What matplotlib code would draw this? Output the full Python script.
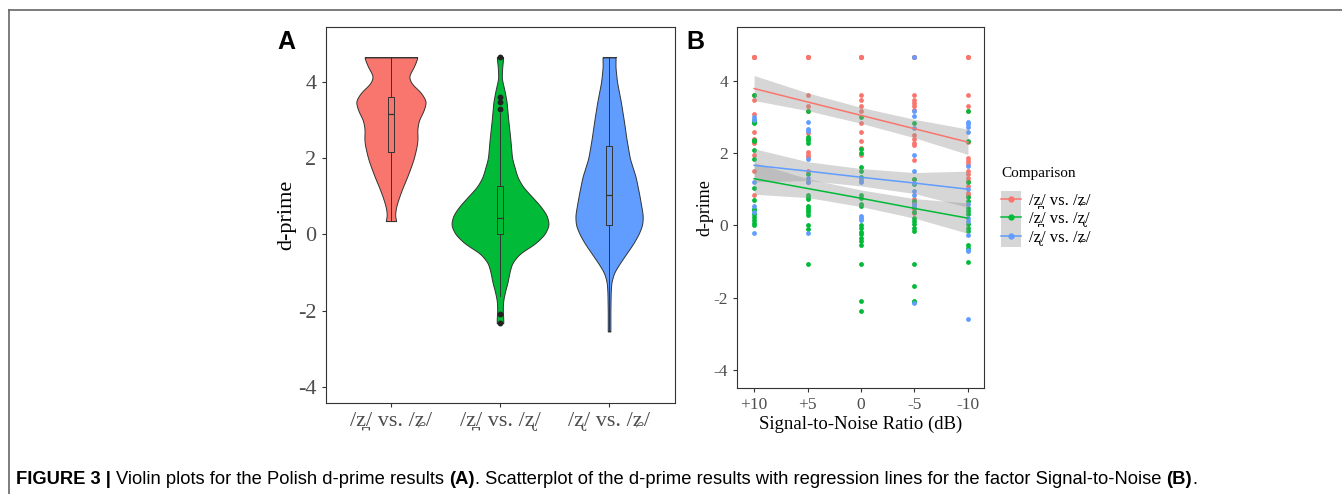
import numpy as np
import matplotlib
matplotlib.use("Agg")
import matplotlib.pyplot as plt
from matplotlib.patches import Rectangle
from matplotlib.lines import Line2D

SERIF = ["Liberation Serif", "DejaVu Serif"]
SANS = ["Liberation Sans", "DejaVu Sans"]
plt.rcParams.update({
    "font.family": SERIF,
    "axes.edgecolor": "#333333",
    "axes.linewidth": 0.8,
    "xtick.color": "#333333",
    "ytick.color": "#333333",
    "xtick.labelcolor": "#4D4D4D",
    "ytick.labelcolor": "#4D4D4D",
    "xtick.direction": "out",
    "ytick.direction": "out",
    "xtick.major.size": 3,
    "ytick.major.size": 3,
})

# ---------------- data ----------------
COMPARISONS = ["/z\u032a/ vs. /\u0291/", "/z\u032a/ vs. /\u0290/", "/\u0290/ vs. /\u0291/"]
COLORS = ["#F8766D", "#00BA38", "#619CFF"]

# violin outlines (d-prime, half width in category units)
VIO_Y_1 = [0.35, 0.5, 0.75, 1.0, 1.25, 1.5, 1.75, 2.0, 2.3, 2.5, 2.75, 3.0,
           3.25, 3.5, 3.75, 3.95, 4.15, 4.4, 4.65]
VIO_W_1 = [0.05, 0.035, 0.049, 0.077, 0.11, 0.147, 0.18, 0.21, 0.235, 0.245,
           0.24, 0.255, 0.30, 0.325, 0.27, 0.19, 0.16, 0.21, 0.245]
VIO_Y_2 = [-2.33, -2.2, -2.0, -1.75, -1.5, -1.25, -1.0, -0.75, -0.5, -0.25,
           0.0, 0.25, 0.5, 0.75, 1.0, 1.25, 1.5, 2.0, 2.5, 3.0, 3.5, 3.8,
           4.1, 4.4, 4.65]
VIO_W_2 = [0.03, 0.03, 0.025, 0.028, 0.046, 0.07, 0.086, 0.11, 0.18, 0.32,
           0.41, 0.45, 0.43, 0.37, 0.29, 0.21, 0.16, 0.11, 0.095, 0.076,
           0.06, 0.04, 0.015, 0.02, 0.03]
VIO_Y_3 = [-2.55, -2.0, -1.5, -1.25, -1.0, -0.75, -0.5, -0.25, 0.0, 0.25,
           0.5, 1.0, 1.5, 2.0, 2.5, 3.0, 3.5, 4.0, 4.4, 4.65]
VIO_W_3 = [0.012, 0.012, 0.015, 0.021, 0.046, 0.10, 0.16, 0.22, 0.27, 0.305,
           0.31, 0.28, 0.245, 0.19, 0.16, 0.135, 0.107, 0.073, 0.058, 0.06]

BOX_MED = [3.17, 0.44, 1.04]
BOX_Q1 = [2.16, 0.0, 0.25]
BOX_Q3 = [3.60, 1.27, 2.32]
BOX_LO = [0.35, -1.62, -2.55]
BOX_HI = [4.65, 3.18, 4.65]
OUTLIERS = [[], [4.65, 3.60, 3.49, 3.29, -2.08, -2.33], []]

# panel B: d-prime per SNR level (dB) and comparison
SNR = [10, 5, 0, -5, -10]
SNR_LABELS = ["+10", "+5", "0", "-5", "-10"]

RED_PTS = [
    [4.65, 4.65, 4.65, 4.65, 4.65, 4.65, 3.60, 3.47, 3.07, 2.58, 2.38, 2.33,
     2.29, 1.94, 1.50, 0.83],
    [4.65, 4.65, 4.65, 4.65, 4.65, 3.61, 3.30, 3.17, 2.56, 2.03, 1.94, 1.89,
     1.50, 1.20],
    [4.65, 4.65, 4.65, 4.65, 4.65, 3.61, 3.47, 3.30, 3.17, 2.84, 2.58, 2.33,
     2.13, 1.94],
    [4.65, 4.65, 4.65, 4.65, 3.61, 3.47, 3.37, 3.30, 3.18, 2.50, 2.38, 2.29,
     2.22, 1.82, 1.28, 0.72, 0.63, 0.44, 0.35],
    [4.65, 4.65, 4.65, 3.61, 3.30, 3.17, 2.30, 1.87, 1.78, 1.70, 1.50, 1.42,
     1.32, 1.23, 1.09, 0.90, 0.84],
]
GREEN_PTS = [
    [3.60, 2.90, 2.87, 2.83, 2.36, 2.33, 2.07, 1.84, 1.03, 0.69, 0.44,
     0.42, 0.32, 0.23, 0.14, 0.07, 0.00],
    [3.17, 2.44, 2.40, 2.36, 2.27, 1.42, 0.84, 0.79, 0.73, 0.54, 0.48,
     0.43, 0.38, 0.28, 0.00, -0.11, -1.06],
    [3.00, 2.10, 2.00, 1.60, 1.50, 1.35, 0.84, 0.77, 0.60, 0.54, 0.00, -0.08,
     -0.18, -0.25, -0.34, -0.44, -0.55, -1.06, -2.10, -2.36],
    [2.84, 1.28, 1.15, 0.68, 0.50, 0.36, 0.21, 0.12, 0.03, -0.06, -0.16,
     -1.06, -1.68, -2.08, -2.12],
    [3.17, 2.33, 1.20, 0.79, 0.68, 0.49, 0.40, 0.31, 0.03, -0.06, -0.16,
     -0.53, -0.62, -1.00],
]
BLUE_PTS = [
    [3.00, 2.90, 1.20, 0.55, 0.36, -0.20],
    [2.87, 2.66, 2.60, 1.83, 1.30, 1.20, -0.20],
    [1.25, 1.20, 0.26, 0.21, 0.14],
    [4.65, 3.17, 3.03, 2.70, 1.94, 1.50, 1.16, 0.94, 0.84, 0.58, 0.54, -2.15],
    [2.87, 2.80, 2.73, 2.58, 1.64, 1.00, 0.58, 0.21, 0.12, -0.27, -0.67,
     -0.71, -2.58],
]

# fitted regression lines and 95% CI at each SNR level
FIT_RED = [3.78, 3.41, 3.04, 2.67, 2.30]
FIT_GREEN = [1.29, 1.02, 0.75, 0.47, 0.20]
FIT_BLUE = [1.66, 1.50, 1.33, 1.17, 1.00]
CI_RED_LO = [3.45, 3.17, 2.82, 2.42, 1.96]
CI_RED_HI = [4.14, 3.66, 3.26, 2.93, 2.66]
CI_GREEN_LO = [0.86, 0.77, 0.52, 0.20, -0.22]
CI_GREEN_HI = [1.74, 1.29, 0.98, 0.74, 0.62]
CI_BLUE_LO = [1.20, 1.24, 1.09, 0.88, 0.50]
CI_BLUE_HI = [2.12, 1.76, 1.57, 1.46, 1.50]

W, H = 1342, 494


def fbox(l, t, r, b):
    return [l / W, 1 - b / H, (r - l) / W, (b - t) / H]


def smooth_profile(ys, ws, n=400, sigma=0.07):
    yy = np.linspace(ys[0], ys[-1], n)
    ww = np.interp(yy, ys, ws)
    step = yy[1] - yy[0]
    k = np.arange(-int(3 * sigma / step), int(3 * sigma / step) + 1) * step
    ker = np.exp(-0.5 * (k / sigma) ** 2)
    ker /= ker.sum()
    pad = len(k) // 2
    wp = np.pad(ww, pad, mode="edge")
    return yy, np.convolve(wp, ker, mode="valid")


fig = plt.figure(figsize=(W / 100, H / 100), dpi=100)

# figure frame (top and left rules)
fig.add_artist(Line2D([9 / W, 1], [1 - 10.5 / H] * 2, color="#666666", lw=1.2))
fig.add_artist(Line2D([9 / W] * 2, [0, 1 - 10.5 / H], color="#666666", lw=1.2))

# ---------------- panel A ----------------
axA = fig.add_axes(fbox(325.5, 27, 674.5, 403))
profiles = [(VIO_Y_1, VIO_W_1), (VIO_Y_2, VIO_W_2), (VIO_Y_3, VIO_W_3)]
for i, (ys, ws) in enumerate(profiles):
    yy, ww = smooth_profile(ys, ws)
    pos = i + 1
    axA.fill_betweenx(yy, pos - ww, pos + ww, facecolor=COLORS[i],
                      edgecolor="#333333", linewidth=0.7, zorder=2)
    axA.plot([pos - ww[0], pos + ww[0]], [yy[0]] * 2, color="#333333", lw=0.7, zorder=2)
    axA.plot([pos - ww[-1], pos + ww[-1]], [yy[-1]] * 2, color="#333333", lw=0.7, zorder=2)

stats = [{"med": BOX_MED[i], "q1": BOX_Q1[i], "q3": BOX_Q3[i],
          "whislo": BOX_LO[i], "whishi": BOX_HI[i], "fliers": OUTLIERS[i]}
         for i in range(3)]
axA.bxp(stats, positions=[1, 2, 3], widths=0.05, showcaps=False,
        boxprops=dict(color="#333333", lw=0.7),
        whiskerprops=dict(color="#333333", lw=0.7),
        medianprops=dict(color="#333333", lw=0.9),
        flierprops=dict(marker="o", markersize=3.2, markerfacecolor="#222222",
                        markeredgecolor="#222222"),
        zorder=3)
axA.set_xlim(0.4, 3.6)
axA.set_ylim(-4.43, 5.45)
axA.set_yticks([-4, -2, 0, 2, 4])
axA.set_yticklabels(["-4", "-2", "0", "2", "4"])
axA.set_xticks([1, 2, 3])
axA.set_xticklabels(COMPARISONS)
axA.tick_params(labelsize=16)
axA.set_ylabel("d-prime", fontsize=16, labelpad=1)
fig.text(277 / W, 1 - 42 / H, "A", family=SANS, weight="bold", fontsize=18,
         va="center", ha="left")

# ---------------- panel B ----------------
axB = fig.add_axes(fbox(737, 27, 984, 388))
all_pts = [RED_PTS, GREEN_PTS, BLUE_PTS]
for i, pts in enumerate(all_pts):
    xs = np.concatenate([[SNR[j]] * len(p) for j, p in enumerate(pts)])
    ys = np.concatenate(pts)
    axB.scatter(xs, ys, s=12, color=COLORS[i], linewidths=0, zorder=2)

fits = [FIT_RED, FIT_GREEN, FIT_BLUE]
los = [CI_RED_LO, CI_GREEN_LO, CI_BLUE_LO]
his = [CI_RED_HI, CI_GREEN_HI, CI_BLUE_HI]
for i in range(3):
    axB.fill_between(SNR, los[i], his[i], color="#999999", alpha=0.4,
                     linewidth=0, zorder=3)
for i in range(3):
    axB.plot(SNR, fits[i], color=COLORS[i], lw=1.1, zorder=4)

axB.set_xlim(11.6, -11.5)
axB.set_ylim(-4.49, 5.48)
axB.set_xticks(SNR)
axB.set_xticklabels(SNR_LABELS)
axB.set_yticks([-4, -2, 0, 2, 4])
axB.set_yticklabels(["-4", "-2", "0", "2", "4"])
axB.tick_params(labelsize=12.5)
axB.set_ylabel("d-prime", fontsize=13, labelpad=0)
axB.set_xlabel("Signal-to-Noise Ratio (dB)", fontsize=13.5, labelpad=2)
fig.text(686 / W, 1 - 42 / H, "B", family=SANS, weight="bold", fontsize=18,
         va="center", ha="left")

# legend: grey key strip behind the three keys, as in ggplot
fig.add_artist(Rectangle((1001 / W, 1 - 247 / H), 20 / W, 56 / H,
                         facecolor="#D6D6D6", edgecolor="none", zorder=1))
handles = [Line2D([], [], color=COLORS[i], lw=1.1, marker="o", markersize=3.5)
           for i in range(3)]
leg = fig.legend(handles, COMPARISONS, loc="upper left",
                 bbox_to_anchor=(1001 / W, 1 - 167 / H),
                 frameon=False, fontsize=12, title="Comparison",
                 title_fontsize=11, alignment="left", handlelength=1.2,
                 handleheight=0.7, labelspacing=0.15, handletextpad=0.5,
                 borderpad=0, borderaxespad=0)
leg.set_zorder(2)
leg._legend_box.sep = 9

# ---------------- caption ----------------
pieces = [("FIGURE 3 | ", "bold"), ("Violin plots for the Polish d-prime results ", "normal"),
          ("(A)", "bold"),
          (". Scatterplot of the d-prime results with regression lines for the factor Signal-to-Noise ", "normal"),
          ("(B)", "bold"), (".", "normal")]
fig.canvas.draw()
renderer = fig.canvas.get_renderer()
x = 16
for txt, wt in pieces:
    t = fig.text(x / W, 1 - 479 / H, txt, family=SANS, weight=wt, fontsize=13.25,
                 va="center", ha="left")
    x += t.get_window_extent(renderer).width

fig.savefig("out.png", dpi=100)
